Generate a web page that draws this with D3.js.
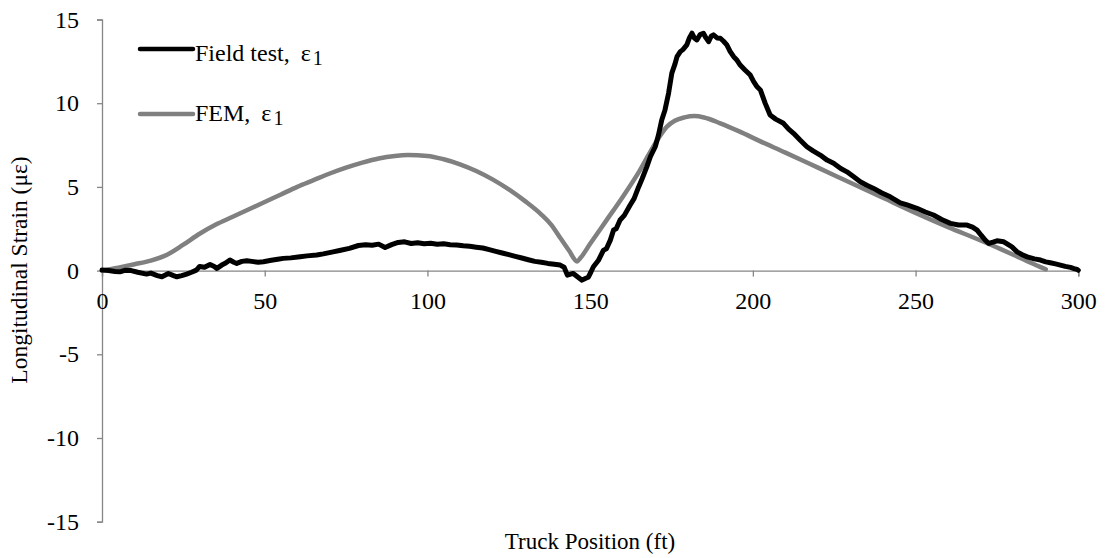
<!DOCTYPE html>
<html>
<head>
<meta charset="utf-8">
<script src="https://cdn.jsdelivr.net/npm/d3@7"></script>
<style>
  html, body { margin: 0; padding: 0; background: #fff; }
  svg text { font-family: "Times New Roman", "Liberation Serif", Tinos, serif !important; }
</style>
</head>
<body>
<svg id="chart" width="1108" height="558"></svg>
<script>
// ---- Data ----
const xTicks = [0, 50, 100, 150, 200, 250, 300];
const yTicks = [-15, -10, -5, 0, 5, 10, 15];

// Field test, ε1 (truck position ft, strain µε)
const fieldPos = [0,2,4,5.5,7,9,11,13.7,15,17,18.4,20.4,22,23,24.5,26,27.5,29,30,31.5,33.2,34.5,35.3,36.8,38,39.3,40.5,41.4,43,44.5,46,48,49.6,52,54,55.7,58,60.9,63,66,68,71,73,76,78.8,81,83,85,87,89,91,93,95,97,99,101,103,105,107,109,111,113,115,117,119,121,123,125,127,129,131,133,135,137,139,140.8,142,143,144.8,146,147.5,148.5,149.4,150.2,151,152.5,154.1,155,156.2,157.2,158,159.2,160.5,162.3,163.5,164.9,166,167.4,168.5,170,171,172,173,174.1,175.1,176,176.7,177.7,178.5,179.7,180.5,181.3,182,182.8,183.8,184.8,185.6,186.4,187.2,187.9,189,190,191,192,193,194.1,195,196.1,197.5,199.2,200.2,201.3,202.3,203.8,205.3,207,209.4,211,212.5,214.5,216.6,218.5,220.7,222.8,224.8,227,228.9,231,233,235,237.1,239.5,242.2,245.3,247.4,250.4,253,255.5,258,260.7,263.2,265.8,267.5,268.9,270.2,271.4,272.5,273.8,275,277.1,278.5,279.6,281.2,282.8,284.3,286.5,288.4,290,291.4,293,294.5,296,297.6,298.7,299.6,300];
const fieldStrain = [0.03,0.0,-0.05,-0.07,0.02,0.0,-0.1,-0.21,-0.15,-0.3,-0.37,-0.17,-0.3,-0.37,-0.3,-0.21,-0.1,0.03,0.25,0.2,0.37,0.25,0.13,0.33,0.45,0.63,0.5,0.43,0.55,0.59,0.55,0.5,0.53,0.62,0.68,0.73,0.76,0.83,0.88,0.93,1.0,1.12,1.2,1.33,1.5,1.55,1.52,1.58,1.38,1.55,1.68,1.72,1.62,1.66,1.6,1.63,1.58,1.6,1.55,1.53,1.48,1.45,1.4,1.35,1.25,1.15,1.05,0.95,0.85,0.75,0.65,0.55,0.5,0.43,0.38,0.33,0.2,-0.27,-0.17,-0.35,-0.57,-0.47,-0.4,-0.1,0.23,0.6,1.22,1.3,1.82,2.42,2.5,3.02,3.3,3.92,4.3,5.0,5.5,6.2,6.8,7.4,8.1,9.0,9.6,10.6,11.8,12.3,12.78,13.08,13.2,13.48,13.9,14.18,13.9,13.78,14.1,14.18,13.9,13.68,14.0,14.08,13.9,13.88,13.7,13.48,13.1,12.78,12.6,12.28,12.0,11.68,11.3,10.98,10.79,9.99,9.29,9.05,8.8,8.45,8.2,7.8,7.4,7.15,6.9,6.6,6.41,6.1,5.9,5.6,5.31,5.1,4.91,4.65,4.41,4.05,3.92,3.72,3.5,3.32,3.05,2.82,2.72,2.72,2.6,2.42,2.1,1.82,1.62,1.7,1.78,1.72,1.55,1.42,1.12,0.95,0.82,0.7,0.63,0.52,0.47,0.4,0.33,0.25,0.19,0.12,0.07,0.02];

// FEM, ε1
const femPos = [0,5,10,15,20,25,30,35,40,45,50,55,60,65,70,75,80,85,90,94,100,105,110,115,120,125,130,135,138,141,143.5,146,147,150,155,160,165,170,173.6,176,179,182,185,190,196,202,210,220,230,240,250,260,270,276,280,285,290];
const femStrain = [0,0.18,0.38,0.6,0.95,1.55,2.2,2.75,3.2,3.65,4.1,4.55,5.0,5.4,5.8,6.15,6.45,6.7,6.85,6.9,6.85,6.65,6.35,5.95,5.45,4.85,4.15,3.35,2.75,1.9,1.2,0.55,0.75,1.6,3.0,4.4,5.9,7.6,8.6,8.95,9.15,9.23,9.15,8.8,8.3,7.75,7.05,6.15,5.25,4.35,3.45,2.6,1.8,1.3,0.95,0.5,0.08];

const seriesNames = ["Field test, ", "FEM, "];
const xTitle = "Truck Position (ft)";
const yTitle = "Longitudinal Strain (με)";

// ---- Chart ----
const svg = d3.select("#chart");
const axisColor = "#868686";
const tickFont = 24;
const serif = '"Times New Roman", "Liberation Serif", serif';

const x = d3.scaleLinear().domain([0, 300]).range([102, 1078.3]);
const y = d3.scaleLinear().domain([-15, 15]).range([521.7, 19.5]);

// Y axis
const yAxis = d3.axisLeft(y).tickValues(yTicks).tickSize(5).tickPadding(18).tickFormat(d3.format("d"));
const gy = svg.append("g").attr("transform", `translate(${x(0)},0)`).call(yAxis)
  .attr("font-family", serif);
gy.select(".domain").attr("stroke", axisColor).attr("stroke-width", 1.3);
gy.selectAll(".tick line").attr("stroke", axisColor).attr("stroke-width", 1.3);
gy.selectAll(".tick text").attr("fill", "#000").style("font-size", tickFont + "px")
  .text(d => d < 0 ? "-" + Math.abs(d) : d);

// X axis at y=0
const xAxis = d3.axisBottom(x).tickValues(xTicks).tickSize(6).tickPadding(15).tickFormat(d3.format("d"));
const gx = svg.append("g").attr("transform", `translate(0,${y(0)})`).call(xAxis)
  .attr("font-family", serif);
gx.select(".domain").attr("stroke", axisColor).attr("stroke-width", 1.3);
gx.selectAll(".tick line").attr("stroke", axisColor).attr("stroke-width", 1.3);
gx.selectAll(".tick text").attr("fill", "#000").style("font-size", tickFont + "px");

// Lines
const fieldData = fieldPos.map((p, i) => [p, fieldStrain[i]]);
const femData = femPos.map((p, i) => [p, femStrain[i]]);

svg.append("path").datum(femData)
  .attr("fill", "none").attr("stroke", "#808080").attr("stroke-width", 4.5)
  .attr("stroke-linejoin", "round").attr("stroke-linecap", "round")
  .attr("d", d3.line().x(d => x(d[0])).y(d => y(d[1])).curve(d3.curveMonotoneX));

svg.append("path").datum(fieldData)
  .attr("fill", "none").attr("stroke", "#000").attr("stroke-width", 5)
  .attr("stroke-linejoin", "round").attr("stroke-linecap", "round")
  .attr("d", d3.line().x(d => x(d[0])).y(d => y(d[1])));

// Legend
const legend = [
  { name: seriesNames[0], color: "#000", y: 49, base: 60.5 },
  { name: seriesNames[1], color: "#808080", y: 114, base: 120.5 }
];
legend.forEach(l => {
  svg.append("line").attr("x1", 140).attr("x2", 193).attr("y1", l.y).attr("y2", l.y)
    .attr("stroke", l.color).attr("stroke-width", 4.5).attr("stroke-linecap", "round");
  const t = svg.append("text").attr("x", 195).attr("y", l.base).attr("xml:space", "preserve")
    .style("font-size", "24px").attr("fill", "#000").text(l.name);
  t.append("tspan").attr("dx", 5).text("ε");
  t.append("tspan").attr("dx", 2).attr("dy", 4).style("font-size", "20px").text("1");
});

// Axis titles
svg.append("text").attr("x", 590).attr("y", 549).attr("text-anchor", "middle")
  .style("font-size", "23px").text(xTitle);
svg.append("text").attr("transform", `translate(27,270) rotate(-90)`).attr("text-anchor", "middle")
  .style("font-size", "23.5px").text(yTitle);
</script>
</body>
</html>
